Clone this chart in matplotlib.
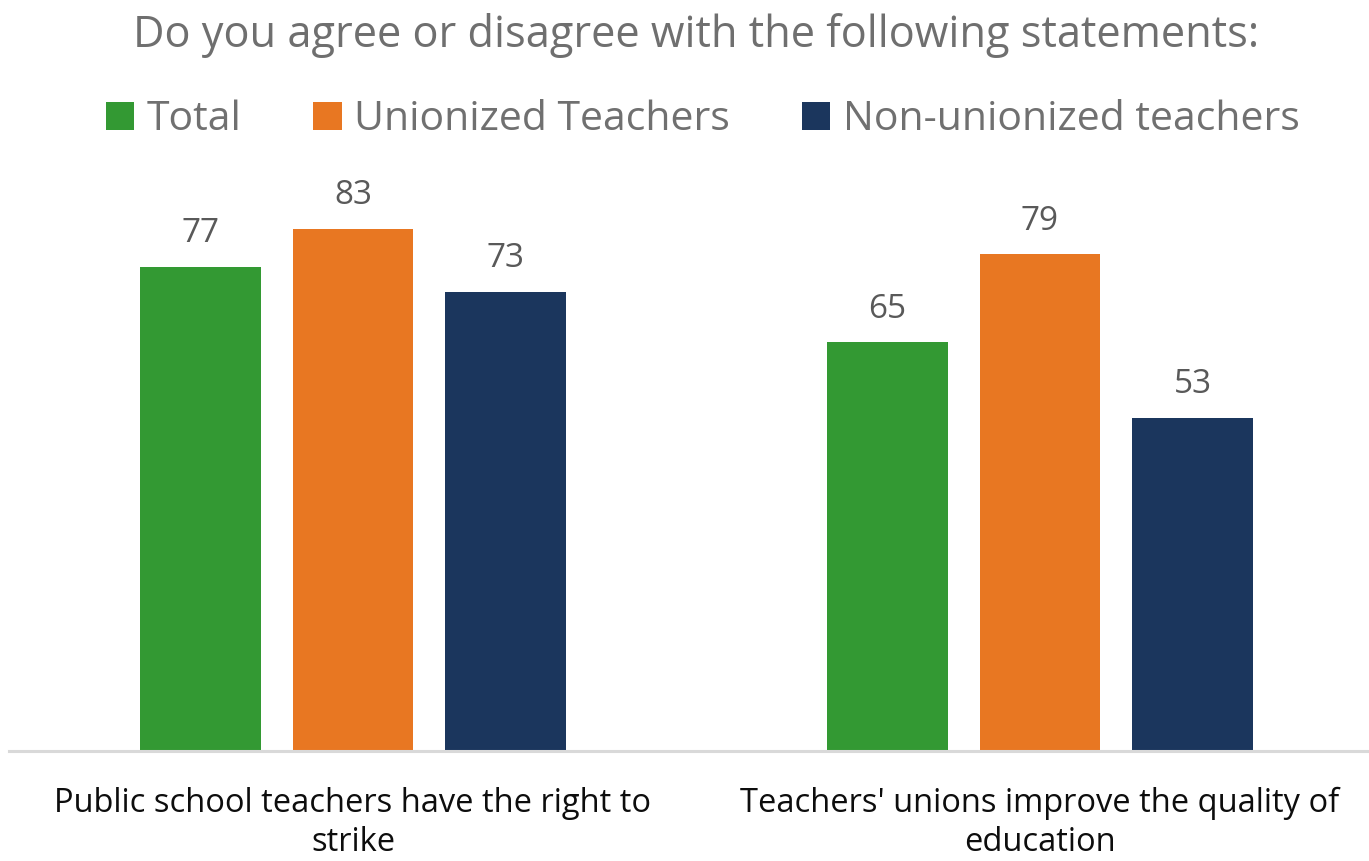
import numpy as np
import matplotlib.pyplot as plt

categories = ["Public school teachers have the right to\nstrike",
              "Teachers' unions improve the quality of\neducation"]
series = ["Total", "Unionized Teachers", "Non-unionized teachers"]
total = [77, 65]
unionized = [83, 79]
non_unionized = [73, 53]
colors = ["#339933", "#E87722", "#1B365D"]

plt.rcParams['font.family'] = ['Open Sans', 'DejaVu Sans']

fig = plt.figure(figsize=(13.69, 8.61), dpi=100)
ax = fig.add_axes([9 / 1369, 1 - 751 / 861, 1360 / 1369, 566 / 861])

x = np.arange(len(categories))
width = 0.175
offset = 0.222
for i, (vals, name) in enumerate(zip([total, unionized, non_unionized], series)):
    bars = ax.bar(x + (i - 1) * offset, vals, width, color=colors[i], label=name)
    ax.bar_label(bars, padding=12, fontsize=24, color="#595959")

ax.set_xlim(-0.5007, 1.479)
ax.set_ylim(0, 90)
ax.set_yticks([])
ax.set_xticks(x)
ax.set_xticklabels(categories, fontsize=23.5, color="#0D0D0D", linespacing=1.22)
ax.tick_params(axis='x', length=0, pad=26)
for s in ['top', 'right', 'left']:
    ax.spines[s].set_visible(False)
ax.spines['bottom'].set_color("#D9D9D9")
ax.spines['bottom'].set_linewidth(2.2)

fig.text(0.5 + 12 / 1369, 1 - 36 / 861, "Do you agree or disagree with the following statements:",
         ha='center', va='center', fontsize=31.2, color="#6F6F6F")
fig.legend(loc='center', bbox_to_anchor=(0.5 + 18 / 1369, 1 - 120 / 861), ncol=3, frameon=False,
           fontsize=29.5, handlelength=0.7, handleheight=0.7, handletextpad=0.3,
           columnspacing=1.75, labelcolor="#707070")

fig.savefig("out.png", dpi=100)
